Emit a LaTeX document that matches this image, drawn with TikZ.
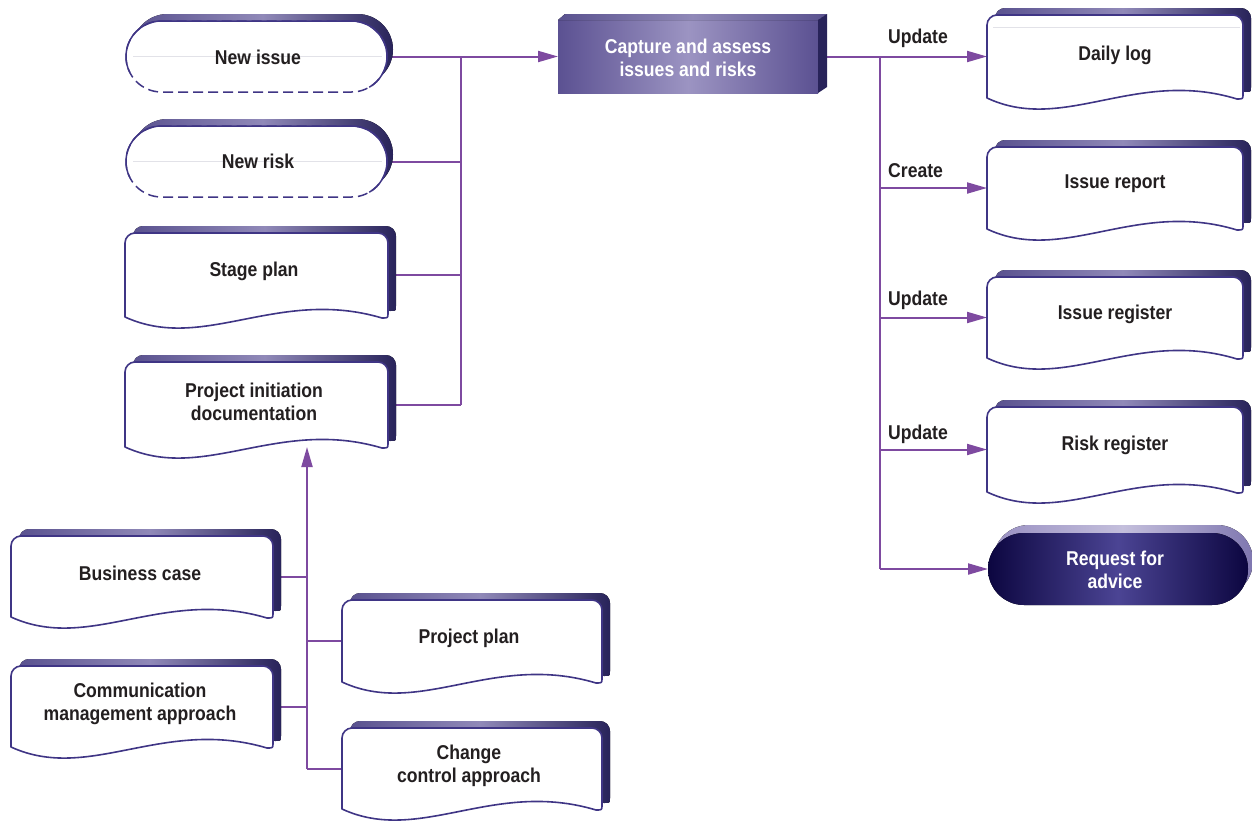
\documentclass[tikz,border=0pt]{standalone}
\usepackage{fontspec}
\setmainfont{Liberation Sans}[FakeStretch=0.88]
\usetikzlibrary{arrows.meta}
\definecolor{conn}{HTML}{7E4AA0}
\definecolor{edge}{HTML}{3F3585}
\definecolor{txtc}{HTML}{231F20}
\definecolor{bandL}{HTML}{5A528F}
\definecolor{bandM}{HTML}{9089B8}
\definecolor{bandR}{HTML}{28235A}
\definecolor{capE}{HTML}{5B5192}
\definecolor{capM}{HTML}{9C94C2}
\definecolor{rfL}{HTML}{0C0640}
\definecolor{rfM}{HTML}{4B4494}
\definecolor{rsL}{HTML}{9990C2}
\definecolor{rsM}{HTML}{C4BFDC}
\definecolor{rsR}{HTML}{7F77B0}
\definecolor{faint}{HTML}{E2E2E8}

\newcommand\docpath[4]{({#1},{#2+10}) arc[start angle=180,end angle=270,radius=10] -- ({#1+#3-10},{#2}) arc[start angle=270,end angle=360,radius=10] -- ({#1+#3},{#2+#4-4}) .. controls ({#1+#3},{#2+#4+1}) .. ({#1+#3-6},{#2+#4+1}) .. controls ({#1+0.58*#3},{#2+#4-30}) and ({#1+0.3*#3},{#2+#4+36}) .. ({#1},{#2+#4}) -- cycle}

\newcommand\docshape[4]{%
  \begin{scope}[shift={(8,-7)}]
    \fill[left color=bandL, right color=bandR, middle color=bandM] \docpath{#1}{#2}{#3}{#4};
  \end{scope}
  \filldraw[fill=white, draw=edge, line width=1.6pt, line join=round] \docpath{#1}{#2}{#3}{#4};
}

\newcommand\pillpath[4]{({#1+#4/2},{#2}) -- ({#1+#3-#4/2},{#2}) arc[start angle=270,end angle=450,radius={#4/2}] -- ({#1+#4/2},{#2+#4}) arc[start angle=90,end angle=270,radius={#4/2}] -- cycle}

\newcommand\pillshape[4]{%
  \begin{scope}[shift={(6,-7)}]
    \fill[left color=bandL, right color=bandR, middle color=bandM] \pillpath{#1}{#2}{#3}{#4};
  \end{scope}
  \fill[white] \pillpath{#1}{#2}{#3}{#4};
  \draw[edge, line width=1.5pt, dash pattern=on 10pt off 5pt] \pillpath{#1}{#2}{#3}{#4};
  \draw[edge, line width=1.5pt] ({#1+#4/2+#4/2*cos(154)},{#2+#4/2+#4/2*sin(154)}) arc[start angle=154,end angle=270,radius={#4/2}] -- ({#1+#3-#4/2},{#2}) arc[start angle=270,end angle=420,radius={#4/2}];
}

\tikzset{
  geom/.style={draw=none, inner sep=0pt, outer sep=0pt},
  txt/.style={font=\bfseries\fontsize{20}{23.5}\selectfont, text=txtc, align=center, inner sep=0pt},
  wtxt/.style={txt, text=white},
  conn/.style={draw=conn, line width=2pt},
  arr/.style={-{Triangle[length=20pt,width=11pt]}},
  faintline/.style={draw=faint, line width=0.8pt},
}

\begin{document}
\begin{tikzpicture}[x=1pt,y=-1pt]
\useasboundingbox (0,0) rectangle (1252,822);

% geometry nodes
\node[geom, minimum width=261pt, minimum height=71pt] (ni) at (256.5,56.5) {};
\node[geom, minimum width=261pt, minimum height=71pt] (nr) at (256.5,161.5) {};
\node[geom, minimum width=263pt, minimum height=84pt] (sp) at (256.5,275) {};
\node[geom, minimum width=263pt, minimum height=85pt] (pid) at (256.5,404.5) {};
\node[geom, minimum width=260pt, minimum height=73pt] (cap) at (688,56.5) {};
\node[geom, minimum width=256pt, minimum height=83pt] (dl) at (1115,56.5) {};
\node[geom, minimum width=256pt, minimum height=82pt] (irp) at (1115,188) {};
\node[geom, minimum width=256pt, minimum height=81pt] (ireg) at (1115,317.5) {};
\node[geom, minimum width=256pt, minimum height=85pt] (rr) at (1115,449.5) {};
\node[geom, minimum width=260pt, minimum height=72pt] (rfa) at (1118,569) {};
\node[geom, minimum width=262pt, minimum height=81pt] (bc) at (142,576.5) {};
\node[geom, minimum width=262pt, minimum height=81pt] (cm) at (142,706.5) {};
\node[geom, minimum width=260pt, minimum height=82pt] (pp) at (472,641) {};
\node[geom, minimum width=260pt, minimum height=81pt] (cc) at (472,768.5) {};

\coordinate (busL) at (461,0);
\coordinate (busR) at (880,0);
\coordinate (busB) at (307,0);

% connectors
\draw[conn, arr] (ni.east) -- (cap.west);
\draw[conn] (busL |- ni.east) -- (busL |- pid.east);
\draw[conn] (nr.east) -- (busL |- nr.east);
\draw[conn] (sp.east) -- (busL |- sp.east);
\draw[conn] (pid.east) -- (busL |- pid.east);

\draw[conn, arr] (cap.east) -- (dl.west);
\draw[conn] (busR |- cap.east) -- (busR |- rfa.west);
\draw[conn, arr] (busR |- irp.west) -- (irp.west);
\draw[conn, arr] (busR |- ireg.west) -- (ireg.west);
\draw[conn, arr] (busR |- rr.west) -- (rr.west);
\draw[conn, arr] (busR |- rfa.west) -- (rfa.west);

\draw[conn, arr] (busB |- cc.west) -- (busB |- pid.south);
\draw[conn] (bc.east) -- (busB |- bc.east);
\draw[conn] (cm.east) -- (busB |- cm.east);
\draw[conn] (busB |- pp.west) -- (pp.west);
\draw[conn] (busB |- cc.west) -- (cc.west);

% shapes
\pillshape{126}{21}{261}{71}
\draw[faintline] (133,56.5) -- (382,56.5);
\pillshape{126}{126}{261}{71}
\draw[faintline] (133,161.5) -- (382,161.5);

\docshape{125}{233}{263}{84}
\docshape{125}{362}{263}{85}

% capture box
\fill[left color=capE, right color=capE, middle color=capM] (558,20) rectangle (818,93);
\fill[left color=bandL, right color=bandL, middle color=bandM] (558,20) -- (565,14) -- (827,14) -- (818,20) -- cycle;
\fill[bandR] (818,20) -- (827,14) -- (827,87) -- (818,93) -- cycle;

\docshape{987}{15}{256}{83}
\draw[faintline] (993,27) -- (1240,27);
\docshape{987}{147}{256}{82}
\docshape{987}{277}{256}{81}
\docshape{987}{407}{256}{85}

% request for advice
\fill[left color=rsL, right color=rsR, middle color=rsM] \pillpath{993}{525}{260}{72};
\fill[left color=rfL, right color=rfL, middle color=rfM] \pillpath{988}{533}{260}{72};

\docshape{11}{536}{262}{81}
\docshape{11}{666}{262}{81}
\docshape{342}{600}{260}{82}
\docshape{342}{728}{260}{81}

% texts
\node[txt] (ni-t) at (258,57) {New issue};
\node[txt] (nr-t) at (258,161) {New risk};
\node[txt] (sp-t) at (254,271) {Stage plan};
\node[txt] (pid-t) at (254,402) {Project initiation\\documentation};
\node[wtxt] (cap-t) at (688,58) {Capture and assess\\issues and risks};
\node[txt] (dl-t) at (1115,55) {Daily log};
\node[txt] (irp-t) at (1115,184) {Issue report};
\node[txt] (ireg-t) at (1115,314) {Issue register};
\node[txt] (rr-t) at (1115,445) {Risk register};
\node[wtxt] (rfa-t) at (1115,570) {Request for\\advice};
\node[txt] (bc-t) at (140,573) {Business case};
\node[txt] (cm-t) at (140,704) {Communication\\management approach};
\node[txt] (pp-t) at (469,638) {Project plan};
\node[txt] (cc-t) at (469,766) {Change\\control approach};

\node[txt, anchor=west] (lu1) at (888,38) {Update};
\node[txt, anchor=west] (lc) at (888,171) {Create};
\node[txt, anchor=west] (lu2) at (888,300) {Update};
\node[txt, anchor=west] (lu3) at (888,434) {Update};
\end{tikzpicture}
\end{document}
